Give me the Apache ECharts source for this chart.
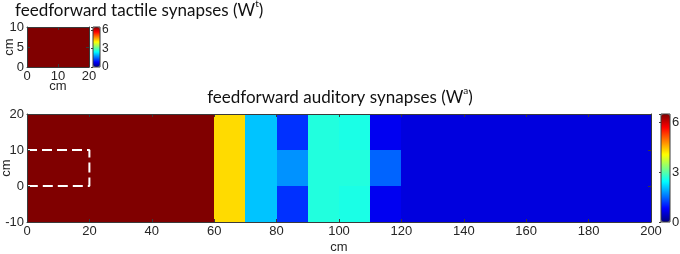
<!DOCTYPE html>
<html>
<head>
<meta charset="utf-8">
<script src="https://cdn.jsdelivr.net/npm/echarts@6/dist/echarts.min.js"></script>
<style>
  html, body { margin: 0; padding: 0; background: #fff; }
  #chart { width: 680px; height: 254px; }
</style>
</head>
<body>
<div id="chart"></div>
<script>
// cell grid: each cell is 10 cm x 10 cm, identified by its lower-left corner
const CELL = 10
const tactileX = [0, 10]
const tactileY = [0]
// tactileValues[column][row]
const tactileValues = [
  [6.5],
  [6.5]
]

const auditoryX = [0, 10, 20, 30, 40, 50, 60, 70, 80, 90, 100, 110, 120, 130, 140, 150, 160, 170, 180, 190]
const auditoryY = [-10, 0, 10]
// auditoryValues[column][row], rows bottom -> top
const auditoryValues = [
  [6.5, 6.5, 6.5],
  [6.5, 6.5, 6.5],
  [6.5, 6.5, 6.5],
  [6.5, 6.5, 6.5],
  [6.5, 6.5, 6.5],
  [6.5, 6.5, 6.5],
  [4.29, 4.29, 4.29],
  [2.06, 2.06, 2.06],
  [1.12, 1.74, 1.12],
  [2.65, 2.65, 2.65],
  [2.6, 2.65, 2.6],
  [0.72, 1.45, 0.72],
  [0.6, 0.6, 0.6],
  [0.6, 0.6, 0.6],
  [0.6, 0.6, 0.6],
  [0.6, 0.6, 0.6],
  [0.6, 0.6, 0.6],
  [0.6, 0.6, 0.6],
  [0.6, 0.6, 0.6],
  [0.6, 0.6, 0.6]
]

// tactile field outline drawn on the auditory map
const tactileOutline = [[0, 10], [20, 10], [20, 0], [0, 0]]

const colorTicks = [0, 3, 6]
const colorMin = 0
const colorMax = 6.5

const JET = ['#000080', '#0000ff', '#0080ff', '#00ffff', '#80ff80', '#ffff00', '#ff8000', '#ff0000', '#800000']

function toCells(xs, ys, values) {
  const cells = []
  xs.forEach((x, i) => {
    ys.forEach((y, j) => {
      cells.push([x, y, values[i][j]])
    })
  })
  return cells
}

function renderCell(params, api) {
  const x0 = api.value(0)
  const y0 = api.value(1)
  const p1 = api.coord([x0, y0 + CELL])
  const p2 = api.coord([x0 + CELL, y0])
  const left = Math.round(p1[0])
  const top = Math.round(p1[1])
  const right = Math.round(p2[0])
  const bottom = Math.round(p2[1])
  return {
    type: 'rect',
    shape: { x: left, y: top, width: right - left, height: bottom - top },
    style: { fill: api.visual('color') }
  }
}

const textColor = '#262626'
const lineColor = '#3a3a3a'
const labelFont = 'Liberation Sans'
const titleFont = 'Lato'

function boxAxis(opts) {
  return Object.assign({
    type: 'value',
    z: 10,
    nameMoveOverlap: false,
    axisLine: { show: true, onZero: false, lineStyle: { color: lineColor, width: 1 } },
    axisTick: { show: true, inside: true, length: 3, lineStyle: { color: lineColor } },
    splitLine: { show: false },
    axisLabel: { color: textColor, fontFamily: labelFont, fontSize: 13, margin: 3 },
    nameTextStyle: { color: textColor, fontFamily: labelFont, fontSize: 13 }
  }, opts)
}

function plainGrid(opts) {
  return Object.assign({ containLabel: false, outerBoundsMode: 'none' }, opts)
}

const chart = echarts.init(document.getElementById('chart'), null, { renderer: 'canvas' })

const titleRich = {
  a: { fontFamily: titleFont, fontSize: 17, fontWeight: 'normal', color: '#111', verticalAlign: 'bottom', lineHeight: 20 },
  s: { fontFamily: titleFont, fontSize: 10, fontWeight: 'normal', color: '#111', verticalAlign: 'top', lineHeight: 20 }
}

const option = {
  animation: false,
  backgroundColor: '#fff',
  title: [
    {
      text: '{a|feedforward tactile synapses (W}{s|t}{a|)}',
      left: 15, top: -1, padding: 0,
      textStyle: { fontWeight: 'normal', rich: titleRich }
    },
    {
      text: '{a|feedforward auditory synapses (W}{s|a}{a|)}',
      left: 'center', top: 86, padding: 0,
      textStyle: { fontWeight: 'normal', rich: titleRich }
    }
  ],
  grid: [
    plainGrid({ left: 27, top: 27, width: 62, height: 40 }),
    plainGrid({ left: 27, top: 114, width: 624, height: 108 }),
    plainGrid({ left: 93, top: 27, width: 7, height: 40, show: true, z: 10, borderColor: lineColor, borderWidth: 1, backgroundColor: 'transparent' }),
    plainGrid({ left: 661, top: 114, width: 9, height: 108, show: true, z: 10, borderColor: lineColor, borderWidth: 1, backgroundColor: 'transparent' })
  ],
  xAxis: [
    boxAxis({ gridIndex: 0, min: 0, max: 20, interval: 10, name: 'cm', nameLocation: 'middle', nameGap: 13 }),
    boxAxis({ gridIndex: 0, position: 'top', min: 0, max: 20, interval: 10, axisLabel: { show: false } }),
    boxAxis({ gridIndex: 1, min: 0, max: 200, interval: 20, name: 'cm', nameLocation: 'middle', nameGap: 19 }),
    boxAxis({ gridIndex: 1, position: 'top', min: 0, max: 200, interval: 20, axisLabel: { show: false } }),
    { type: 'value', gridIndex: 2, min: 0, max: 1, show: false },
    { type: 'value', gridIndex: 3, min: 0, max: 1, show: false }
  ],
  yAxis: [
    boxAxis({ gridIndex: 0, min: 0, max: 10, interval: 5, name: 'cm', nameLocation: 'middle', nameGap: 11 }),
    boxAxis({ gridIndex: 0, position: 'right', min: 0, max: 10, interval: 5, axisLabel: { show: false } }),
    boxAxis({ gridIndex: 1, min: -10, max: 20, interval: 10, name: 'cm', nameLocation: 'middle', nameGap: 14 }),
    boxAxis({ gridIndex: 1, position: 'right', min: -10, max: 20, interval: 10, axisLabel: { show: false } }),
    boxAxis({
      gridIndex: 2, position: 'right', min: colorMin, max: colorMax, interval: 3,
      axisLine: { show: false },
      axisTick: { show: true, inside: true, length: 2, lineStyle: { color: lineColor } },
      axisLabel: { color: textColor, fontFamily: labelFont, fontSize: 12, margin: 2, customValues: colorTicks }
    }),
    boxAxis({
      gridIndex: 3, position: 'right', min: colorMin, max: colorMax, interval: 3,
      axisLine: { show: false },
      axisTick: { show: true, inside: true, length: 2, lineStyle: { color: lineColor } },
      axisLabel: { color: textColor, fontFamily: labelFont, fontSize: 13, margin: 2, customValues: colorTicks }
    })
  ],
  visualMap: [
    {
      type: 'continuous', seriesIndex: 0, dimension: 2, min: colorMin, max: colorMax,
      inRange: { color: JET }, calculable: false, hoverLink: false,
      left: 93, top: 27, itemWidth: 7, itemHeight: 40, padding: 0, text: null, z: 5
    },
    {
      type: 'continuous', seriesIndex: 1, dimension: 2, min: colorMin, max: colorMax,
      inRange: { color: JET }, calculable: false, hoverLink: false,
      left: 661, top: 114, itemWidth: 9, itemHeight: 108, padding: 0, text: null, z: 5
    }
  ],
  series: [
    {
      name: 'tactile',
      type: 'custom',
      xAxisIndex: 0,
      yAxisIndex: 0,
      renderItem: renderCell,
      encode: { x: 0, y: 1 },
      clip: true,
      data: toCells(tactileX, tactileY, tactileValues)
    },
    {
      name: 'auditory',
      type: 'custom',
      xAxisIndex: 2,
      yAxisIndex: 2,
      renderItem: renderCell,
      encode: { x: 0, y: 1 },
      clip: true,
      data: toCells(auditoryX, auditoryY, auditoryValues)
    },
    {
      name: 'outline',
      type: 'line',
      xAxisIndex: 2,
      yAxisIndex: 2,
      symbol: 'none',
      z: 6,
      lineStyle: { color: '#ffffff', width: 2, type: [10, 5] },
      data: tactileOutline
    }
  ]
}

chart.setOption(option)
</script>
</body>
</html>
